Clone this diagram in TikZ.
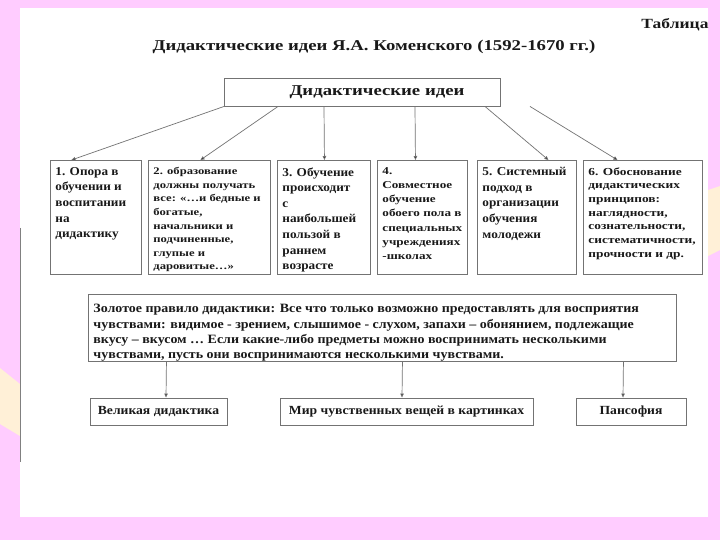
\documentclass[tikz,border=0pt]{standalone}
\usepackage{fontspec}
\setmainfont{Liberation Serif}
\newfontfamily\midfont{Liberation Serif}[FakeStretch=1.1]
\newfontfamily\widefont{Liberation Serif}[FakeStretch=1.25]
\usetikzlibrary{arrows.meta,positioning}
\definecolor{pinkbg}{RGB}{255,204,255}
\definecolor{paleyellow}{RGB}{255,240,215}
\definecolor{boxgray}{RGB}{115,115,115}
\definecolor{inkblack}{RGB}{25,25,25}
\hfuzz=30pt \hbadness=10000

% a box with its text at the top left
\newcommand{\ideabox}[3]{\parbox[t][#1][t]{#2}{\raggedright #3}}

\tikzset{
  idea/.style={draw=boxgray, line width=0.9pt, anchor=north west, inner xsep=5pt, inner ysep=7pt, text=inkblack},
  work/.style={draw=boxgray, line width=0.9pt, minimum height=27pt, inner sep=2pt, text=inkblack,
    font=\midfont\bfseries\fontsize{12.4}{14}\selectfont},
  link/.style={draw=boxgray, line width=0.7pt, -{Triangle[length=4pt,width=3.5pt,fill=inkblack]}},
  bigtext/.style={font=\midfont\bfseries\fontsize{12}{15.6}\selectfont}
}

\begin{document}
\begin{tikzpicture}[x=1pt,y=-1pt]

% the page: pink frame with a white sheet
\useasboundingbox (0,0) rectangle (720,540);
\fill[pinkbg] (0,0) rectangle (720,540);
\fill[white] (20,8) rectangle (708,517);
\fill[paleyellow] (0,368) -- (20,384) -- (20,436) -- (0,424) -- cycle;
\fill[paleyellow] (708,190) -- (720,186) -- (720,250) -- (708,256) -- cycle;
\draw[gray, line width=1pt] (20.5,228) -- (20.5,462);

%% the headings
\node[text=inkblack, font=\widefont\bfseries\fontsize{14}{16}\selectfont] (table) at (675,25) {Таблица};
\node[text=inkblack, font=\widefont\bfseries\fontsize{15}{17}\selectfont] (title) at (374,47)
  {Дидактические идеи Я.А. Коменского (1592-1670 гг.)};

% the main box
\node[draw=boxgray, line width=0.9pt, minimum width=276pt, minimum height=28pt, text=inkblack,
  font=\widefont\bfseries\fontsize{15}{17}\selectfont] (ideas) at (362,92) {\hspace*{30pt}Дидактические идеи};

% the six ideas
\node[idea, bigtext] (idea1) at (50,160) {\ideabox{100pt}{81pt}{1. Опора в\\обучении и\\воспитании\\на\\дидактику}};
\node[idea, font=\widefont\bfseries\fontsize{10.1}{13.6}\selectfont] (idea2) at (148,160)
  {\ideabox{100pt}{112pt}{2. образование\\должны получать\\все: «…и бедные и\\богатые,\\начальники и\\подчиненные,\\глупые и\\даровитые…»}};
\node[idea, bigtext] (idea3) at (277,160) {\ideabox{100pt}{83pt}{3. Обучение\\происходит\\с\\наибольшей\\пользой в\\раннем\\возрасте}};
\node[idea, font=\widefont\bfseries\fontsize{10.5}{14.2}\selectfont] (idea4) at (377,160)
  {\ideabox{100pt}{80pt}{4.\\Совместное\\обучение\\обоего пола в\\специальных\\учреждениях\\-школах}};
\node[idea, bigtext] (idea5) at (477,160) {\ideabox{100pt}{89pt}{5. Системный\\подход в\\организации\\обучения\\молодежи}};
\node[idea, font=\widefont\bfseries\fontsize{10.7}{13.7}\selectfont] (idea6) at (583,160)
  {\ideabox{100pt}{109pt}{6. Обоснование\\дидактических\\принципов:\\наглядности,\\сознательности,\\систематичности,\\прочности и др.}};

% arrows from the main box down to the ideas
\foreach \from/\to/\id in {-138/-24.5/1, -84/-9/2, -38/0.5/3, 53/-7/4, 123/21.5/5, 168/-25.5/6}
  \draw[link] ([xshift=\from pt]ideas.south) -- ([xshift=\to pt]idea\id.north);

% the golden rule
\node[idea, inner ysep=10pt, font=\midfont\bfseries\fontsize{12.7}{15.3}\selectfont] (rule) at (88,294)
  {\ideabox{47pt}{578pt}{Золотое правило дидактики: Все что только возможно предоставлять для восприятия\\чувствами: видимое - зрением, слышимое - слухом, запахи – обонянием, подлежащие\\вкусу – вкусом … Если какие-либо предметы можно воспринимать несколькими\\чувствами, пусть они воспринимаются несколькими чувствами.}};

%% the works
\node[work, minimum width=137pt] (great) at (158.5,411.5) {Великая дидактика};
\node[work, minimum width=253pt] (world) at (406.5,411.5) {Мир чувственных вещей в картинках};
\node[work, minimum width=110pt] (pansophy) at (631,411.5) {Пансофия};

\draw[link] ([xshift=-216pt]rule.south) -- ([xshift=7.5pt]great.north);
\draw[link] ([xshift=20pt]rule.south) -- ([xshift=-4.5pt]world.north);
\draw[link] ([xshift=241pt]rule.south) -- ([xshift=-8pt]pansophy.north);

\end{tikzpicture}
\end{document}
